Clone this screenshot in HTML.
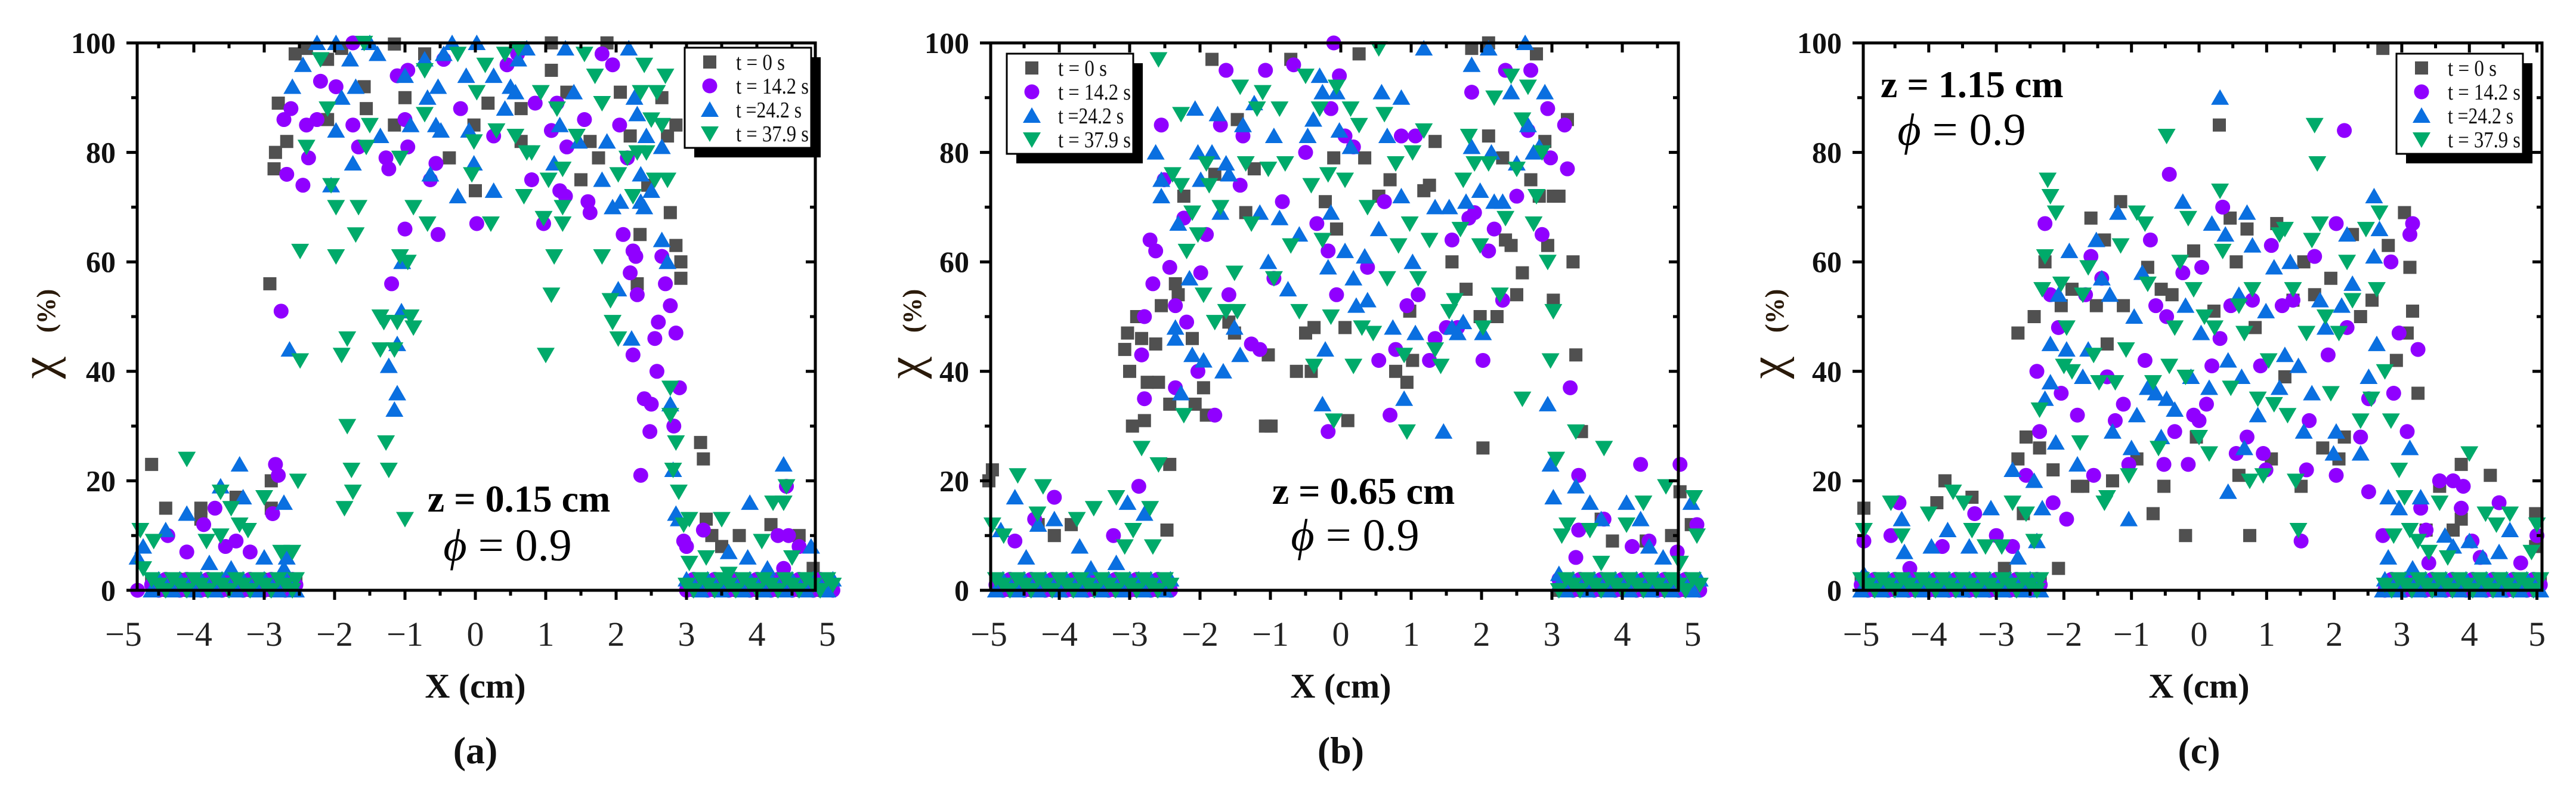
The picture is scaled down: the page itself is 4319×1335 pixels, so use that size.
<!DOCTYPE html>
<html><head><meta charset="utf-8"><style>
html,body{margin:0;padding:0;background:#fff;}
svg{display:block;}
</style></head><body>
<svg id="fig" xmlns="http://www.w3.org/2000/svg" width="4319" height="1335" viewBox="0 0 4319 1335"></svg>
<script>
const xTicks = [-5,-4,-3,-2,-1,0,1,2,3,4,5];
const yTicks = [0,20,40,60,80,100];
const seriesNames = ["t = 0 s","t = 14.2 s","t =24.2 s","t = 37.9 s"];
const seriesColors = ["#505050","#9000ff","#0a6fe0","#00aa6a"];

const aGray = [[-4.6,23],[-4.4,15],[-3.9,15],[-3.9,13],[-3.4,17],[-2.9,20],[-2.9,15],[-4.2,2],[-3.0,2],[-2.92,56],[-2.86,77],[-2.84,80],[-2.8,89],[-2.68,82],[-2.56,98],[-2.4,99],[-2.1,86],[-1.58,92],[-1.55,88],[-2.1,97],[-1.9,99],[-1.15,99.8],[-0.72,98],[-1.0,90],[-1.15,85],[-0.37,79],[-0.02,85],[0,73],[0.18,89],[0.65,88],[0.65,82],[1.08,100],[1.08,95],[1.3,91],[1.5,75],[1.63,82],[1.87,100],[1.75,79],[2.06,91],[2.2,83],[2.34,65],[2.3,56],[2.45,74],[2.65,90],[2.73,83],[2.77,69],[2.85,85],[2.85,63],[2.92,57],[2.92,60],[3.2,27],[3.24,24],[3.28,13],[3.36,10],[3.5,8],[3.75,10],[4.2,12],[4.6,10],[4.8,4],[4.3,2]];
const aPurple = [[-2.76,51],[-2.68,76],[-2.45,74],[-2.72,86],[-2.62,88],[-2.4,85],[-2.25,86],[-2.2,93],[-1.98,92],[-2.37,79],[-1.74,85],[-1.66,81],[-1.74,100],[-1.27,79],[-1.23,77],[-1.19,56],[-1.0,66],[-0.96,81],[-1.0,86],[-1.11,94],[-0.96,95],[-0.53,65],[-0.56,78],[-0.64,75],[-0.21,88],[-0.45,97],[0.02,67],[0.26,83],[0.45,96],[0.6,98],[0.8,75],[0.85,89],[0.97,67],[1.08,84],[1.16,89],[1.2,73],[1.28,72],[1.3,81],[1.55,86],[1.6,71],[1.63,69],[1.8,98],[1.95,96],[2.05,85],[2.1,65],[2.16,79],[2.2,58],[2.24,62],[2.28,61],[2.3,54],[2.24,43],[2.35,21],[2.4,35],[2.48,29],[2.5,34],[2.55,46],[2.58,40],[2.6,49],[2.65,61],[2.7,56],[2.77,52],[2.85,47],[2.9,37],[2.82,30],[2.96,9],[3.0,8],[-2.84,23],[-2.8,21],[-2.88,14],[-3.7,15],[-3.86,12],[-4.37,10],[-3.55,8],[-3.4,9],[-3.2,7],[-4.1,7],[-4.8,0],[3.24,11],[4.3,10],[4.45,10],[4.42,19],[4.6,8],[4.38,4]];
const aBlue = [[-2.6,92],[-2.45,96],[-2.25,100],[-1.98,100],[-1.9,90],[-1.98,84],[-1.78,97],[-1.7,92],[-1.74,78],[-1.5,100],[-1.39,98],[-1.35,83],[-2.05,74],[-2.64,44],[-2.72,16],[-1.11,36],[-1.15,33],[-1.23,41],[-1.11,45],[-1.05,51],[-1.04,60],[-1.0,94],[-0.92,85],[-0.72,97],[-0.68,90],[-0.56,85],[-0.49,84],[-0.64,76],[-0.53,92],[-0.45,98],[-0.33,100],[-0.25,72],[-0.13,94],[-0.09,84],[-0.02,78],[0.02,100],[0.26,73],[0.26,94],[0.42,88],[0.5,92],[0.57,91],[0.73,99],[0.61,97],[1.12,78],[1.2,85],[1.28,99],[1.4,91],[1.47,82],[1.8,75],[1.87,82],[1.95,70],[2.06,71],[2.03,55],[2.18,99],[2.26,90],[2.3,87],[2.22,46],[2.35,71],[2.35,76],[2.43,83],[2.4,70],[2.5,73],[2.65,64],[2.73,60],[2.65,81],[2.77,34],[2.81,22],[2.85,14],[2.89,13],[-3.35,23],[-3.3,17],[-3.62,19],[-4.1,14],[-4.4,11],[-4.8,6],[-4.72,8],[-3.78,5],[-3.47,4],[-3.0,6],[-2.68,6],[-2.72,4],[3.9,16],[4.38,23],[4.77,8],[3.6,7],[3.87,6],[4.15,4]];
const aGreen = [[-2.49,42],[-2.49,62],[-2.4,81],[-2.2,97],[-2.1,88],[-2.05,74],[-1.98,70],[-1.98,61],[-1.9,43],[-1.86,15],[-1.82,46],[-1.82,30],[-1.76,22],[-1.74,18],[-1.66,70],[-1.7,65],[-1.58,100],[-1.5,85],[-1.55,81],[-1.35,50],[-1.3,49],[-1.35,44],[-1.27,27],[-1.23,22],[-1.15,44],[-1.0,13],[-1.07,61],[-0.96,60],[-0.92,50],[-0.88,48],[-1.11,49],[-1.07,79],[-0.88,70],[-0.72,87],[-0.68,67],[-0.72,95],[-0.25,98],[-0.05,76],[-0.02,82],[0.02,91],[0.14,96],[0.22,67],[0.3,84],[0.42,98],[0.57,83],[0.61,99],[0.69,72],[0.73,80],[0.8,80],[0.97,68],[0.93,91],[1.04,75],[1.0,43],[1.08,54],[1.12,61],[1.16,88],[1.24,77],[1.24,67],[1.24,70],[1.44,83],[1.55,98],[1.7,94],[1.8,89],[1.8,61],[1.92,53],[1.95,49],[2.03,46],[2.03,76],[2.16,79],[2.24,72],[2.3,80],[2.35,91],[2.43,80],[2.4,96],[2.5,86],[2.55,75],[2.58,91],[2.65,85],[2.7,94],[2.73,75],[2.77,37],[2.77,32],[2.85,27],[2.81,22],[2.89,18],[2.96,12],[3.04,13],[-4.1,24],[-4.76,11],[-4.57,9],[-3.62,18],[-3.47,15],[-3.35,12],[-3.82,9],[-3.62,10],[-3.23,11],[-3.0,17],[-2.76,7],[-2.6,7],[-2.52,20],[-4.72,4],[3.04,5],[3.28,6],[3.5,13],[3.6,3],[4.07,9],[4.23,16],[4.38,16],[4.42,19],[4.5,6],[4.7,2]];
const aZeroX = [-4.6,-4.5,-4.4,-4.3,-4.2,-4.1,-4.0,-3.9,-3.8,-3.7,-3.6,-3.5,-3.4,-3.3,-3.2,-3.1,-3.0,-2.9,-2.8,-2.7,-2.6,-2.55,3.0,3.1,3.2,3.3,3.4,3.5,3.6,3.7,3.8,3.9,4.0,4.1,4.2,4.3,4.4,4.5,4.6,4.7,4.8,4.9,5.0,5.08];

const bGray = [[-5.0,20],[-4.95,22],[-4.3,12],[-4.07,10],[-3.83,12],[-3.07,44],[-3.03,47],[-3.0,40],[-2.96,30],[-2.9,50],[-2.83,46],[-2.79,31],[-2.75,38],[-2.63,45],[-2.59,38],[-2.55,52],[-2.43,34],[-2.43,23],[-2.47,11],[-2.31,54],[-2.35,56],[-2.23,72],[-2.11,46],[-2.07,34],[-1.95,37],[-1.91,32],[-1.83,97],[-1.79,76],[-1.59,49],[-1.51,47],[-1.47,86],[-1.35,69],[-1.23,77],[-1.07,30],[-0.99,30],[-1.03,43],[-0.71,97],[-0.63,40],[-0.5,47],[-0.42,40],[-0.38,48],[-0.22,71],[-0.1,79],[-0.06,66],[0.06,48],[0.1,31],[0.26,98],[0.34,79],[0.54,72],[0.7,75],[0.78,40],[0.94,38],[0.98,51],[1.02,42],[1.18,73],[1.26,74],[1.34,82],[1.58,60],[1.78,55],[1.86,99],[1.98,50],[2.02,26],[2.1,100],[2.1,83],[2.22,50],[2.3,79],[2.34,64],[2.42,63],[2.5,54],[2.58,58],[2.7,75],[2.78,98],[2.82,72],[2.9,82],[2.94,63],[3.02,53],[3.02,72],[3.1,72],[3.22,86],[3.3,60],[3.34,43],[3.42,29],[3.7,13],[3.86,9],[4.34,9],[4.7,10],[4.82,18],[4.98,12]];
const bPurple = [[-4.07,17],[-4.63,9],[-4.35,13],[-3.23,10],[-2.87,19],[-2.79,35],[-2.79,50],[-2.83,43],[-2.71,64],[-2.67,56],[-2.63,62],[-2.55,85],[-2.51,75],[-2.43,59],[-2.35,37],[-2.35,52],[-2.23,68],[-2.19,49],[-2.03,40],[-1.99,58],[-1.91,65],[-1.79,32],[-1.71,85],[-1.63,95],[-1.59,54],[-1.43,74],[-1.39,83],[-1.27,45],[-1.15,44],[-1.07,95],[-0.95,57],[-0.83,71],[-0.67,96],[-0.5,80],[-0.34,67],[-0.18,62],[-0.18,29],[-0.14,88],[-0.1,100],[-0.06,54],[-0.02,94],[0.06,83],[0.18,81],[0.38,59],[0.54,42],[0.62,71],[0.7,32],[0.78,44],[0.86,83],[0.94,52],[1.06,83],[1.1,54],[1.26,42],[1.34,46],[1.5,48],[1.58,64],[1.66,48],[1.82,68],[1.86,91],[1.9,69],[2.02,42],[2.1,62],[2.18,66],[2.3,53],[2.34,95],[2.5,72],[2.66,84],[2.7,95],[2.86,65],[2.94,88],[2.98,79],[3.18,85],[3.22,77],[3.26,37],[3.38,21],[3.34,6],[3.38,11],[3.74,13],[4.14,8],[4.26,23],[4.38,9],[4.82,23],[4.78,7],[5.06,12]];
const bBlue = [[-2.63,80],[-2.55,75],[-2.55,72],[-2.35,48],[-2.35,46],[-2.31,67],[-2.27,36],[-2.15,57],[-2.11,43],[-2.07,88],[-2.03,80],[-1.99,75],[-1.95,42],[-1.83,80],[-1.75,87],[-1.71,69],[-1.67,40],[-1.63,78],[-1.59,76],[-1.51,48],[-1.43,43],[-1.39,85],[-1.23,89],[-1.15,69],[-1.03,60],[-0.95,83],[-0.87,68],[-0.75,55],[-0.59,65],[-0.47,83],[-0.39,86],[-0.3,94],[-0.26,91],[-0.26,34],[-0.22,44],[-0.18,59],[-0.14,69],[-0.06,91],[-0.02,84],[0.06,62],[0.14,81],[0.18,57],[0.22,52],[0.34,61],[0.38,53],[0.54,66],[0.58,91],[0.66,83],[0.74,48],[0.86,90],[0.86,72],[0.9,35],[1.02,60],[1.06,47],[1.18,99],[1.34,70],[1.46,29],[1.54,70],[1.58,48],[1.66,47],[1.74,49],[1.78,71],[1.86,96],[1.86,81],[1.98,73],[2.02,47],[2.1,99],[2.14,80],[2.18,71],[2.3,71],[2.42,91],[2.5,78],[2.62,100],[2.66,85],[2.74,80],[2.82,81],[2.9,91],[2.94,34],[2.98,23],[3.02,17],[3.1,3],[3.34,19],[3.54,16],[3.7,13],[4.06,16],[4.26,13],[4.38,8],[4.58,6],[4.98,16],[-4.63,17],[-4.83,11],[-4.3,12],[-4.47,6],[-4.07,13],[-3.71,8],[-3.55,4],[-3.19,5],[-3.03,16],[-2.79,14],[-2.87,2]];
const bGreen = [[-2.59,97],[-2.83,26],[-2.59,23],[-2.71,15],[-2.67,8],[-2.95,11],[-3.07,8],[-3.19,17],[-3.51,15],[-3.75,13],[-4.23,19],[-4.59,21],[-4.95,12],[-4.79,10],[-4.31,14],[-2.39,76],[-2.27,87],[-2.27,74],[-2.23,32],[-2.19,62],[-2.11,69],[-2.03,65],[-1.95,54],[-1.91,78],[-1.87,74],[-1.79,49],[-1.71,70],[-1.63,51],[-1.51,58],[-1.47,51],[-1.43,92],[-1.35,78],[-1.27,67],[-1.19,88],[-1.11,91],[-1.03,77],[-0.95,57],[-0.87,88],[-0.79,78],[-0.71,63],[-0.59,51],[-0.5,94],[-0.42,74],[-0.38,41],[-0.3,88],[-0.26,64],[-0.18,76],[-0.14,50],[-0.1,31],[-0.06,92],[0.06,75],[0.14,88],[0.18,41],[0.26,85],[0.3,48],[0.38,70],[0.46,47],[0.54,99],[0.62,87],[0.66,57],[0.78,78],[0.82,63],[0.9,43],[0.94,29],[0.98,67],[1.02,80],[1.1,57],[1.18,84],[1.26,64],[1.34,44],[1.42,41],[1.54,51],[1.62,53],[1.7,66],[1.74,75],[1.82,83],[1.9,78],[1.98,63],[2.02,48],[2.1,78],[2.18,90],[2.26,54],[2.34,68],[2.42,94],[2.5,77],[2.58,86],[2.66,92],[2.74,67],[2.78,72],[2.86,80],[2.94,60],[2.98,42],[2.58,35],[3.02,51],[3.06,24],[3.22,12],[3.34,29],[3.14,10],[3.54,11],[3.7,5],[3.74,26],[4.06,12],[4.3,16],[4.62,19],[4.82,5],[5.02,17],[5.06,10]];
const bZeroX = [-4.9,-4.8,-4.7,-4.6,-4.5,-4.4,-4.3,-4.2,-4.1,-4.0,-3.9,-3.8,-3.7,-3.6,-3.5,-3.4,-3.3,-3.2,-3.1,-3.0,-2.9,-2.8,-2.7,-2.6,-2.5,-2.42,3.1,3.2,3.3,3.4,3.5,3.6,3.7,3.8,3.9,4.0,4.1,4.2,4.3,4.4,4.5,4.6,4.7,4.8,4.9,5.0,5.1];

const cGray = [[-4.96,15],[-3.76,20],[-3.88,16],[-3.36,17],[-2.88,4],[-2.68,24],[-2.6,14],[-2.68,47],[-2.44,50],[-2.56,28],[-2.36,26],[-2.28,60],[-2.16,22],[-2.08,4],[-2.04,52],[-1.88,55],[-1.8,19],[-1.72,19],[-1.6,68],[-1.52,52],[-1.4,64],[-1.36,45],[-1.28,20],[-1.16,71],[-1.12,52],[-0.92,24],[-0.76,59],[-0.68,14],[-0.52,19],[-0.56,55],[-0.4,54],[-0.2,10],[-0.08,62],[-0.04,28],[0.22,51],[0.3,85],[0.46,68],[0.55,60],[0.59,21],[0.71,66],[0.75,10],[0.83,48],[1.07,24],[1.15,67],[1.27,39],[1.39,53],[1.51,19],[1.55,60],[1.71,54],[1.83,26],[1.95,57],[2.07,24],[2.15,28],[2.27,65],[2.39,50],[2.56,53],[2.72,99],[2.8,63],[2.92,42],[3.04,69],[3.12,59],[3.16,51],[3.08,47],[3.24,36],[3.36,11],[3.56,19],[3.88,23],[3.88,13],[3.76,11],[4.31,21],[4.98,14],[4.98,8]];
const cPurple = [[-4.96,9],[-4.44,16],[-4.56,10],[-4.28,4],[-3.8,8],[-3.32,14],[-3.0,10],[-2.76,8],[-2.56,21],[-2.4,40],[-2.36,29],[-2.28,67],[-2.2,54],[-2.16,16],[-2.08,48],[-2.04,36],[-1.96,13],[-1.8,32],[-1.68,54],[-1.6,61],[-1.56,21],[-1.44,57],[-1.36,39],[-1.24,31],[-1.12,34],[-1.04,23],[-0.8,42],[-0.72,64],[-0.64,52],[-0.52,23],[-0.48,50],[-0.44,76],[-0.36,29],[-0.24,58],[-0.16,23],[-0.08,32],[0.0,31],[0.04,59],[0.11,34],[0.19,41],[0.31,46],[0.35,70],[0.47,52],[0.55,25],[0.71,28],[0.79,53],[0.91,41],[0.95,25],[0.99,22],[1.07,63],[1.23,52],[1.39,53],[1.51,9],[1.59,22],[1.63,31],[1.71,61],[1.91,43],[2.03,67],[2.03,21],[2.15,84],[2.19,48],[2.39,28],[2.51,18],[2.51,35],[2.72,10],[2.84,60],[2.88,36],[2.96,47],[3.08,29],[3.12,65],[3.16,67],[3.24,44],[3.28,15],[3.36,11],[3.4,5],[3.56,20],[3.76,20],[3.91,19],[3.88,15],[4.04,9],[4.16,6],[4.44,16],[4.76,5],[5.0,10]];
const cBlue = [[-4.96,3],[-4.4,13],[-4.36,7],[-3.96,8],[-3.72,11],[-3.4,8],[-3.08,15],[-2.68,6],[-2.76,22],[-2.44,20],[-2.4,9],[-2.32,15],[-2.28,35],[-2.2,38],[-2.2,45],[-2.12,27],[-2.08,54],[-1.96,44],[-1.92,62],[-1.8,23],[-1.72,39],[-1.64,44],[-1.52,64],[-1.44,57],[-1.32,54],[-1.28,29],[-1.2,69],[-1.04,13],[-1.0,26],[-0.96,50],[-0.92,32],[-0.84,58],[-0.76,37],[-0.64,36],[-0.56,28],[-0.48,35],[-0.36,33],[-0.24,71],[-0.2,52],[-0.12,39],[0.03,47],[0.15,37],[0.19,67],[0.31,90],[0.39,65],[0.43,42],[0.43,18],[0.59,54],[0.63,39],[0.67,26],[0.71,69],[0.79,63],[0.87,32],[0.99,51],[1.11,59],[1.19,37],[1.27,43],[1.35,60],[1.47,41],[1.55,29],[1.67,36],[1.79,53],[1.87,48],[1.99,25],[2.03,29],[2.11,52],[2.19,65],[2.27,56],[2.39,25],[2.51,39],[2.59,72],[2.59,61],[2.67,66],[2.63,45],[2.72,0],[2.8,17],[2.8,6],[2.96,15],[3.12,26],[3.16,4],[3.28,17],[3.64,10],[3.76,8],[4.0,9],[4.2,6],[4.44,7],[4.6,11]];
const cGreen = [[-4.96,11],[-4.56,16],[-4.4,10],[-4.0,14],[-3.64,18],[-3.48,16],[-3.36,11],[-3.16,8],[-2.92,8],[-2.76,16],[-2.56,14],[-2.44,9],[-2.36,33],[-2.32,55],[-2.28,61],[-2.24,75],[-2.2,72],[-2.12,69],[-2.04,56],[-2.0,41],[-1.96,48],[-1.88,40],[-1.76,27],[-1.72,54],[-1.64,59],[-1.56,43],[-1.48,38],[-1.4,16],[-1.36,17],[-1.24,38],[-1.16,63],[-1.08,44],[-1.04,21],[-0.92,69],[-0.8,67],[-0.76,56],[-0.68,38],[-0.6,26],[-0.48,83],[-0.44,41],[-0.36,48],[-0.28,60],[-0.2,39],[-0.16,68],[-0.08,55],[0.0,28],[0.08,50],[0.15,25],[0.23,48],[0.31,73],[0.35,62],[0.47,37],[0.59,52],[0.67,47],[0.75,20],[0.79,55],[0.87,35],[0.95,21],[1.03,42],[1.11,34],[1.19,65],[1.27,66],[1.31,32],[1.39,55],[1.43,20],[1.47,11],[1.59,47],[1.67,64],[1.71,85],[1.75,78],[1.79,67],[1.87,50],[1.95,36],[2.07,47],[2.19,60],[2.27,53],[2.39,31],[2.47,66],[2.55,35],[2.63,55],[2.67,69],[2.75,40],[2.84,31],[2.88,10],[2.96,22],[3.04,17],[3.12,11],[3.24,9],[3.4,7],[3.56,16],[3.68,6],[4.0,25],[4.24,14],[4.4,12],[4.6,14],[4.92,7],[5.0,12]];
const cZeroX = [-5.0,-4.9,-4.8,-4.7,-4.6,-4.5,-4.4,-4.3,-4.2,-4.1,-4.0,-3.9,-3.8,-3.7,-3.6,-3.5,-3.4,-3.3,-3.2,-3.1,-3.0,-2.9,-2.8,-2.7,-2.6,-2.5,-2.4,-2.35,2.75,2.85,2.95,3.05,3.15,3.25,3.35,3.45,3.55,3.65,3.75,3.85,3.95,4.05,4.15,4.25,4.35,4.45,4.55,4.65,4.75,4.85,4.95,5.05];

const NS = "http://www.w3.org/2000/svg";
const svg = document.getElementById("fig");
function mk(tag, attrs, parent) {
  const e = document.createElementNS(NS, tag);
  for (const k in attrs) e.setAttribute(k, attrs[k]);
  (parent || svg).appendChild(e);
  return e;
}
const Y_TOP = 72, Y_ZERO = 990;
function yS(v) { return Y_ZERO - v * (Y_ZERO - Y_TOP) / 100; }
const legendWidths = [82, 122, 110, 122];

const panels = [
  {id:"a", x0:797, kx:118, left:230, right:1367, series:[aGray,aPurple,aBlue,aGreen], zeros:aZeroX,
   legend:{x:1148,y:80}, z:"z = 0.15 cm", zx:870, zy:858, zAnchor:"middle", px:851, py:940, ytx:70},
  {id:"b", x0:2248, kx:118, left:1661, right:2814, series:[bGray,bPurple,bBlue,bGreen], zeros:bZeroX,
   legend:{x:1688,y:90}, z:"z = 0.65 cm", zx:2286, zy:845, zAnchor:"middle", px:2272, py:923, ytx:1522},
  {id:"c", x0:3687, kx:113.3, left:3124, right:4262, series:[cGray,cPurple,cBlue,cGreen], zeros:cZeroX,
   legend:{x:4018,y:90}, z:"z = 1.15 cm", zx:3153, zy:163, zAnchor:"start", px:3289, py:243, ytx:2968}
];

function marker(g, kind, cx, cy, color, name) {
  let e;
  if (kind === 0) e = mk("rect", {x:cx-11, y:cy-11, width:22, height:22, fill:color}, g);
  else if (kind === 1) e = mk("circle", {cx:cx, cy:cy, r:12.5, fill:color}, g);
  else if (kind === 2) e = mk("polygon", {points:`${cx},${cy-14} ${cx+15},${cy+12} ${cx-15},${cy+12}`, fill:color}, g);
  else e = mk("polygon", {points:`${cx-15},${cy-12} ${cx+15},${cy-12} ${cx},${cy+14}`, fill:color}, g);
  
  
  return e;
}

panels.forEach(p => {
  const xS = v => p.x0 + v * p.kx;
  const g = mk("g", {});
  
  

  p.series.forEach((ser, si) => {
    const sg = mk("g", {}, g);
    
    
    p.zeros.forEach((zx, i) => {
      const zy = (i + si) % 3 === 0 ? 2 : ((i + si) % 3 === 1 ? 1 : 0);
      marker(sg, si, xS(zx), yS(zy), seriesColors[si], 'point-zero');
    });
    ser.forEach(d => marker(sg, si, xS(d[0]), yS(d[1]), seriesColors[si], 'point'));
  });

  const fr = mk("rect", {x:p.left, y:Y_TOP, width:p.right-p.left, height:Y_ZERO-Y_TOP, fill:"none", stroke:"#000", "stroke-width":5}, g);
  
  

  for (let k = -10; k <= 10; k++) {
    const v = k / 2, px = xS(v);
    if (px <= p.left + 3 || px >= p.right - 3) continue;
    const len = (k % 2 === 0) ? 16 : 9;
    const t1 = mk("line", {x1:px, x2:px, y1:Y_TOP, y2:Y_TOP+len, stroke:"#000", "stroke-width":5}, g);
    
    
    const t2 = mk("line", {x1:px, x2:px, y1:Y_ZERO, y2:Y_ZERO+len, stroke:"#000", "stroke-width":5}, g);
    
    
  }
  xTicks.forEach(v => {
    const t = mk("text", {x:xS(v), y:1083, "text-anchor":"middle", "font-family":"Liberation Serif, serif", "font-size":58, fill:"#222"}, g);
    t.textContent = (v < 0 ? "\u2212" : "") + Math.abs(v);
    
    
  });
  for (let v = 0; v <= 100; v += 10) {
    const py = yS(v), major = v % 20 === 0;
    const l = mk("line", {x1:p.left-(major?18:10), x2:p.left, y1:py, y2:py, stroke:"#000", "stroke-width":5}, g);
    
    
    const r = mk("line", {x1:p.right-(major?16:9), x2:p.right, y1:py, y2:py, stroke:"#000", "stroke-width":5}, g);
    
    
  }
  yTicks.forEach(v => {
    const t = mk("text", {x:p.left-36, y:yS(v)+17, "text-anchor":"end", "font-family":"Liberation Serif, serif", "font-weight":"bold", "font-size":50, fill:"#111"}, g);
    t.textContent = v;
    
    
  });

  const xt = mk("text", {x:p.x0, y:1170, "text-anchor":"middle", "font-family":"Liberation Serif, serif", "font-weight":"bold", "font-size":58, fill:"#111"}, g);
  xt.textContent = "X (cm)";
  
  
  const yt = mk("text", {x:0, y:0, transform:`translate(${p.ytx + 22},560) rotate(-90)`, "text-anchor":"middle", "font-family":"Liberation Serif, serif", fill:"#2a1a0a"}, g);
  
  
  const ts1 = mk("tspan", {"font-size":84}, yt); ts1.textContent = "\u03C7";
  const ts2 = mk("tspan", {"font-size":44, "font-weight":"bold", dx:40}, yt); ts2.textContent = "(%)";

  const pl = mk("text", {x:p.x0, y:1280, "text-anchor":"middle", "font-family":"Liberation Serif, serif", "font-weight":"bold", "font-size":64, fill:"#111"}, g);
  pl.textContent = "(" + p.id + ")";
  
  

  const zt = mk("text", {x:p.zx, y:p.zy, "text-anchor":p.zAnchor, "font-family":"Liberation Serif, serif", "font-weight":"bold", "font-size":64, fill:"#000"}, g);
  zt.textContent = p.z;
  
  
  const ph = mk("text", {x:p.px, y:p.py, "text-anchor":"middle", "font-family":"Liberation Serif, serif", "font-size":76, fill:"#000"}, g);
  
  
  const f1 = mk("tspan", {"font-style":"italic"}, ph); f1.textContent = "\u03D5";
  const f2 = mk("tspan", {}, ph); f2.textContent = " = 0.9";

  const L = p.legend;
  const lg = mk("g", {}, g);
  
  
  const sh = mk("rect", {x:L.x+16, y:L.y+16, width:212, height:168, fill:"#000"}, lg);
  
  
  const bx = mk("rect", {x:L.x, y:L.y, width:212, height:168, fill:"#fff", stroke:"#000", "stroke-width":3}, lg);
  
  
  seriesNames.forEach((nm, i) => {
    const cy = L.y + 24 + i * 40;
    marker(lg, i, L.x + 42, cy, seriesColors[i], 'legend-marker');
    const lt = mk("text", {x:L.x + 86, y:cy + 13, "font-family":"Liberation Serif, serif", "font-size":38, fill:"#111", textLength:legendWidths[i], lengthAdjust:"spacingAndGlyphs"}, lg);
    lt.textContent = nm;
    
    
  });
});
</script>
</body></html>
